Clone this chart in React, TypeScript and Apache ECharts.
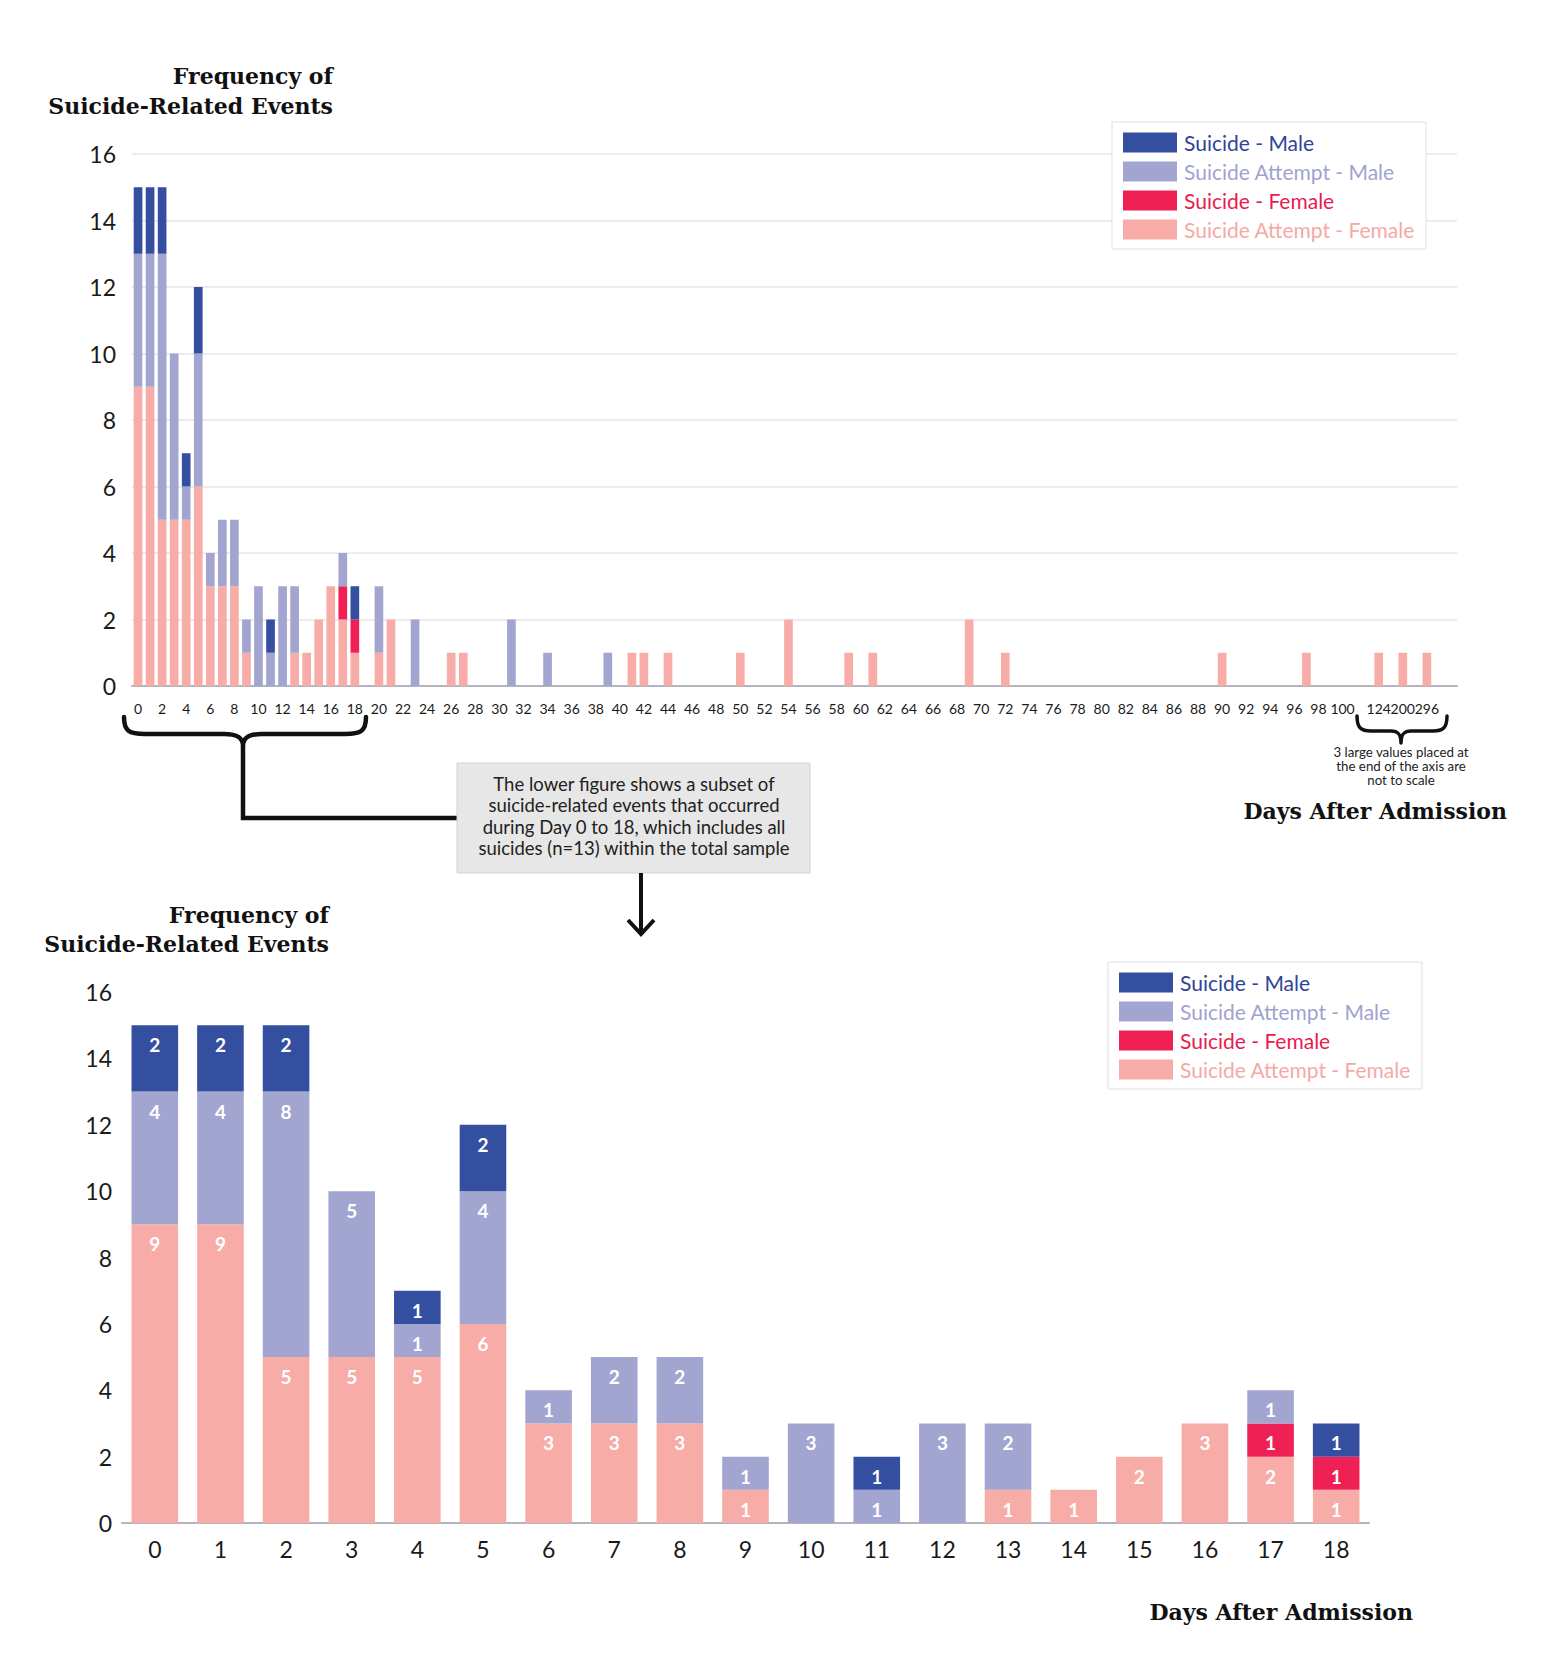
import React, { useEffect, useRef } from "react";
import * as echarts from "echarts";

// ---------- DATA ----------
const seriesNames = [
  "Suicide Attempt - Female",
  "Suicide - Female",
  "Suicide Attempt - Male",
  "Suicide - Male",
];
const legendOrder = [
  "Suicide - Male",
  "Suicide Attempt - Male",
  "Suicide - Female",
  "Suicide Attempt - Female",
];
const barColors: Record<string, string> = {
  "Suicide - Male": "#344ea0",
  "Suicide Attempt - Male": "#a3a5d1",
  "Suicide - Female": "#ee2054",
  "Suicide Attempt - Female": "#f7aca7",
};
const legendTextColors: Record<string, string> = {
  "Suicide - Male": "#2f4499",
  "Suicide Attempt - Male": "#a0a3d0",
  "Suicide - Female": "#e91a50",
  "Suicide Attempt - Female": "#f6a9a4",
};

// Lower figure: days 0-18
const earlyDays = ["0", "1", "2", "3", "4", "5", "6", "7", "8", "9", "10", "11", "12", "13", "14", "15", "16", "17", "18"];
const attemptFemaleEarly = [9, 9, 5, 5, 5, 6, 3, 3, 3, 1, 0, 0, 0, 1, 1, 2, 3, 2, 1];
const suicideFemaleEarly = [0, 0, 0, 0, 0, 0, 0, 0, 0, 0, 0, 0, 0, 0, 0, 0, 0, 1, 1];
const attemptMaleEarly = [4, 4, 8, 5, 1, 4, 1, 2, 2, 1, 3, 1, 3, 2, 0, 0, 0, 1, 0];
const suicideMaleEarly = [2, 2, 2, 0, 1, 2, 0, 0, 0, 0, 0, 1, 0, 0, 0, 0, 0, 0, 1];

// Upper figure: events after day 18 (day label, count)
const attemptFemaleLater: [string, number][] = [
  ["20", 1], ["21", 2], ["26", 1], ["27", 1], ["41", 1], ["42", 1], ["44", 1], ["50", 1],
  ["54", 2], ["59", 1], ["61", 1], ["69", 2], ["72", 1], ["90", 1], ["97", 1],
  ["124", 1], ["200", 1], ["296", 1],
];
const attemptMaleLater: [string, number][] = [
  ["20", 2], ["23", 2], ["31", 2], ["34", 1], ["39", 1],
];
const suicideFemaleLater: [string, number][] = [];
const suicideMaleLater: [string, number][] = [];

// Upper axis categories: days 0-100, then three large values (not to scale), blanks as spacers
const regularDays = Array.from({ length: 101 }, (_, i) => String(i));
const tailCategories = ["", " ", "124", "  ", "200", "   ", "296", "    ", "     "];
const topCategories = [...regularDays, ...tailCategories];

const yTicksMax = 16;
const yTickInterval = 2;

const noteLines = [
  "The lower figure shows a subset of",
  "suicide-related events that occurred",
  "during Day 0 to 18, which includes all",
  "suicides (n=13) within the total sample",
];
const scaleNoteLines = ["3 large values placed at", "the end of the axis are", "not to scale"];

// ---------- HELPERS ----------
const buildTop = (early: number[], later: [string, number][]) =>
  topCategories.map((cat, i) => {
    let v = 0;
    if (i < early.length) v = early[i];
    const hit = later.find((e) => e[0] === cat);
    if (hit) v = hit[1];
    return v === 0 ? null : v;
  });
const nz = (arr: number[]) => arr.map((v) => (v === 0 ? null : v));

const BIG_BRACE =
  "M124,717 C124,731 129,734 145,734 L224,734 C236,734 243,737 243,746 C243,737 250,734 262,734 L345,734 C361,734 366,731 366,717";
const SMALL_BRACE =
  "M1357,716 C1357,728 1361,731 1371,731 L1391,731 C1398,731 1401,734 1401,743 C1401,734 1404,731 1411,731 L1433,731 C1443,731 1447,728 1447,716";

let shapesRegistered = false;
function registerShapes() {
  if (shapesRegistered) return;
  echarts.graphic.registerShape("bigBrace", (echarts.graphic as any).extendPath(BIG_BRACE, {}));
  echarts.graphic.registerShape("smallBrace", (echarts.graphic as any).extendPath(SMALL_BRACE, {}));
  shapesRegistered = true;
}

const txt = (
  text: string,
  x: number,
  y: number,
  align: string,
  font: { size: number; family: string; weight?: string | number; color?: string }
) => ({
  type: "text",
  x,
  y,
  silent: true,
  style: {
    text,
    fill: font.color || "#111",
    fontSize: font.size,
    fontFamily: font.family,
    fontWeight: font.weight || "normal",
    align,
    verticalAlign: "middle",
    textAlign: align,
    textVerticalAlign: "middle",
  },
});

const SERIF = { size: 22, family: "DejaVu Serif", weight: "bold", color: "#111" };

export default function App() {
  const ref = useRef<HTMLDivElement>(null);

  useEffect(() => {
    document.body.style.margin = "0";
    if (!ref.current) return;
    registerShapes();
    const chart = echarts.init(ref.current, undefined, { renderer: "svg" });

    const topData = [
      buildTop(attemptFemaleEarly, attemptFemaleLater),
      buildTop(suicideFemaleEarly, suicideFemaleLater),
      buildTop(attemptMaleEarly, attemptMaleLater),
      buildTop(suicideMaleEarly, suicideMaleLater),
    ];
    const bottomData = [
      nz(attemptFemaleEarly),
      nz(suicideFemaleEarly),
      nz(attemptMaleEarly),
      nz(suicideMaleEarly),
    ];

    const legendBase = {
      orient: "vertical",
      itemWidth: 54,
      itemHeight: 20,
      itemGap: 8,
      padding: [10, 11, 9, 11],
      borderColor: "#e0e0e0",
      borderWidth: 1,
      backgroundColor: "#fff",
      icon: "rect",
      selectedMode: false,
      textStyle: { fontFamily: "Lato", fontSize: 21, lineHeight: 21, padding: [0, 0, 0, 2] },
      data: legendOrder.map((n) => ({ name: n, textStyle: { color: legendTextColors[n] } })),
    };

    const axisLabelStyle = { fontFamily: "Lato", color: "#1a1a1a" };
    const lastTopIndex = topCategories.length - 1;

    const option: any = {
      animation: false,
      textStyle: { fontFamily: "Lato" },
      grid: [
        { left: 132, right: 84, top: 154, bottom: 981, containLabel: false, outerBoundsMode: "none" },
        { left: 122, right: 172, top: 992, bottom: 144, containLabel: false, outerBoundsMode: "none" },
      ],
      legend: [
        { ...legendBase, left: 1112, top: 122 },
        { ...legendBase, left: 1108, top: 962 },
      ],
      xAxis: [
        {
          type: "category",
          gridIndex: 0,
          data: topCategories,
          axisTick: { show: false },
          axisLine: { lineStyle: { color: "#b4b4ba", width: 2 } },
          axisLabel: {
            ...axisLabelStyle,
            fontSize: 14,
            margin: 15,
            interval: (index: number, value: string) =>
              index === lastTopIndex ||
              (value.trim() !== "" && (index > 100 || index % 2 === 0)),
            hideOverlap: false,
          },
          splitLine: { show: false },
        },
        {
          type: "category",
          gridIndex: 1,
          data: earlyDays,
          axisTick: { show: false },
          axisLine: { lineStyle: { color: "#b4b4ba", width: 2 } },
          axisLabel: { ...axisLabelStyle, fontSize: 23, margin: 14, interval: 0 },
          splitLine: { show: false },
        },
      ],
      yAxis: [
        {
          type: "value",
          gridIndex: 0,
          min: 0,
          max: yTicksMax,
          interval: yTickInterval,
          axisLine: { show: false },
          axisTick: { show: false },
          axisLabel: { ...axisLabelStyle, fontSize: 23, margin: 16 },
          splitLine: { lineStyle: { color: "#e6e6e6", width: 1.5 } },
        },
        {
          type: "value",
          gridIndex: 1,
          min: 0,
          max: yTicksMax,
          interval: yTickInterval,
          axisLine: { show: false },
          axisTick: { show: false },
          axisLabel: { ...axisLabelStyle, fontSize: 23, margin: 10 },
          splitLine: { show: false },
        },
      ],
      series: [
        ...seriesNames.map((name, k) => ({
          name,
          type: "bar",
          xAxisIndex: 0,
          yAxisIndex: 0,
          stack: "top",
          barCategoryGap: "28%",
          itemStyle: { color: barColors[name] },
          data: topData[k],
        })),
        ...seriesNames.map((name, k) => ({
          name,
          type: "bar",
          xAxisIndex: 1,
          yAxisIndex: 1,
          stack: "bottom",
          barCategoryGap: "29%",
          itemStyle: { color: barColors[name] },
          label: {
            show: true,
            position: "insideTop",
            distance: 10,
            color: "#fff",
            fontFamily: "Lato",
            fontWeight: "bold",
            fontSize: 19,
            formatter: (p: any) => (p.value ? String(p.value) : ""),
          },
          data: bottomData[k],
        })),
      ],
      graphic: [
        // upper titles
        txt("Frequency of", 333, 76, "right", SERIF),
        txt("Suicide-Related Events", 333, 106, "right", SERIF),
        txt("Days After Admission", 1507, 811, "right", SERIF),
        // lower titles
        txt("Frequency of", 329, 915, "right", SERIF),
        txt("Suicide-Related Events", 329, 944, "right", SERIF),
        txt("Days After Admission", 1413, 1612, "right", SERIF),
        // big brace and connector
        {
          type: "bigBrace",
          x: 0,
          y: 0,
          silent: true,
          style: { fill: "none", stroke: "#111", lineWidth: 4.5, lineJoin: "round", lineCap: "round" },
        },
        {
          type: "polyline",
          silent: true,
          shape: { points: [[243, 746], [243, 818], [458, 818]] },
          style: { fill: "none", stroke: "#111", lineWidth: 4.5 },
        },
        // note box
        {
          type: "rect",
          silent: true,
          shape: { x: 457, y: 763, width: 353, height: 110 },
          style: { fill: "#e7e7e7", stroke: "#d2d2d2", lineWidth: 1 },
        },
        ...noteLines.map((l, i) =>
          txt(l, 634, 784 + i * 21.3, "center", { size: 18.5, family: "Lato", color: "#222" })
        ),
        // arrow down
        {
          type: "line",
          silent: true,
          shape: { x1: 641, y1: 873, x2: 641, y2: 933 },
          style: { stroke: "#111", lineWidth: 4 },
        },
        {
          type: "polyline",
          silent: true,
          shape: { points: [[628, 920], [641, 934], [654, 920]] },
          style: { fill: "none", stroke: "#111", lineWidth: 4 },
        },
        // small brace + note
        {
          type: "smallBrace",
          x: 0,
          y: 0,
          silent: true,
          style: { fill: "none", stroke: "#111", lineWidth: 3.5, lineJoin: "round", lineCap: "round" },
        },
        ...scaleNoteLines.map((l, i) =>
          txt(l, 1401, 752 + i * 13.8, "center", { size: 13.3, family: "Lato", color: "#222" })
        ),
      ],
    };

    chart.setOption(option);
    return () => chart.dispose();
  }, []);

  return <div ref={ref} style={{ width: 1541, height: 1667 }} />;
}
